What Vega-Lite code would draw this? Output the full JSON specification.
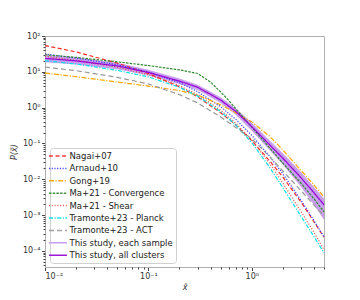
{
  "$schema": "https://vega.github.io/schema/vega-lite/v6.json",
  "width": 279,
  "height": 231,
  "autosize": {"type": "none"},
  "padding": {"left": 45, "top": 36, "right": 36, "bottom": 33},
  "background": "white",
  "config": {
    "font": "DejaVu Sans",
    "view": {"stroke": "#b0b0b0", "strokeWidth": 1},
    "axis": {"grid": false, "domainColor": "#b0b0b0", "tickColor": "#444444", "labelColor": "#333333", "labelFontSize": 8, "titleFontSize": 8, "titleColor": "#333333", "titleFontWeight": "normal", "titleFontStyle": "italic"}
  },
  "datasets": {
    "lines": [
      {"s": "Nagai+07", "x": 0.01, "y": 54}, {"s": "Nagai+07", "x": 0.02, "y": 36}, {"s": "Nagai+07", "x": 0.05, "y": 17.5}, {"s": "Nagai+07", "x": 0.1, "y": 9.0}, {"s": "Nagai+07", "x": 0.2, "y": 3.8}, {"s": "Nagai+07", "x": 0.3, "y": 2.0}, {"s": "Nagai+07", "x": 0.5, "y": 0.72}, {"s": "Nagai+07", "x": 0.7, "y": 0.33}, {"s": "Nagai+07", "x": 1, "y": 0.12}, {"s": "Nagai+07", "x": 1.5, "y": 0.032}, {"s": "Nagai+07", "x": 2, "y": 0.0115}, {"s": "Nagai+07", "x": 3, "y": 0.0023}, {"s": "Nagai+07", "x": 4, "y": 0.00065}, {"s": "Nagai+07", "x": 5, "y": 0.00024},
      {"s": "Arnaud+10", "x": 0.01, "y": 31.5}, {"s": "Arnaud+10", "x": 0.02, "y": 24.26}, {"s": "Arnaud+10", "x": 0.05, "y": 15.75}, {"s": "Arnaud+10", "x": 0.1, "y": 9.905}, {"s": "Arnaud+10", "x": 0.2, "y": 4.95}, {"s": "Arnaud+10", "x": 0.3, "y": 2.788}, {"s": "Arnaud+10", "x": 0.5, "y": 1.06}, {"s": "Arnaud+10", "x": 0.7, "y": 0.471}, {"s": "Arnaud+10", "x": 1, "y": 0.1686}, {"s": "Arnaud+10", "x": 1.5, "y": 0.04264}, {"s": "Arnaud+10", "x": 2, "y": 0.0142}, {"s": "Arnaud+10", "x": 3, "y": 0.00258}, {"s": "Arnaud+10", "x": 4, "y": 0.000702}, {"s": "Arnaud+10", "x": 5, "y": 0.000245},
      {"s": "Gong+19", "x": 0.01, "y": 9.3}, {"s": "Gong+19", "x": 0.02, "y": 7.3}, {"s": "Gong+19", "x": 0.05, "y": 5.2}, {"s": "Gong+19", "x": 0.1, "y": 4.0}, {"s": "Gong+19", "x": 0.2, "y": 3.0}, {"s": "Gong+19", "x": 0.3, "y": 2.25}, {"s": "Gong+19", "x": 0.5, "y": 1.2}, {"s": "Gong+19", "x": 0.7, "y": 0.72}, {"s": "Gong+19", "x": 1, "y": 0.4}, {"s": "Gong+19", "x": 1.5, "y": 0.155}, {"s": "Gong+19", "x": 2, "y": 0.066}, {"s": "Gong+19", "x": 3, "y": 0.0175}, {"s": "Gong+19", "x": 4, "y": 0.0069}, {"s": "Gong+19", "x": 5, "y": 0.0032},
      {"s": "Ma+21 - Convergence", "x": 0.01, "y": 30}, {"s": "Ma+21 - Convergence", "x": 0.02, "y": 25.3}, {"s": "Ma+21 - Convergence", "x": 0.05, "y": 19.0}, {"s": "Ma+21 - Convergence", "x": 0.1, "y": 15.0}, {"s": "Ma+21 - Convergence", "x": 0.2, "y": 11.3}, {"s": "Ma+21 - Convergence", "x": 0.3, "y": 9.0}, {"s": "Ma+21 - Convergence", "x": 0.4, "y": 5.15}, {"s": "Ma+21 - Convergence", "x": 0.5, "y": 2.74}, {"s": "Ma+21 - Convergence", "x": 0.6, "y": 1.58}, {"s": "Ma+21 - Convergence", "x": 0.7, "y": 0.93}, {"s": "Ma+21 - Convergence", "x": 1, "y": 0.286}, {"s": "Ma+21 - Convergence", "x": 1.5, "y": 0.0738}, {"s": "Ma+21 - Convergence", "x": 2, "y": 0.0281}, {"s": "Ma+21 - Convergence", "x": 3, "y": 0.00773}, {"s": "Ma+21 - Convergence", "x": 4, "y": 0.00284}, {"s": "Ma+21 - Convergence", "x": 5, "y": 0.00123},
      {"s": "Ma+21 - Shear", "x": 0.01, "y": 27}, {"s": "Ma+21 - Shear", "x": 0.02, "y": 21}, {"s": "Ma+21 - Shear", "x": 0.05, "y": 13.5}, {"s": "Ma+21 - Shear", "x": 0.1, "y": 8.3}, {"s": "Ma+21 - Shear", "x": 0.2, "y": 4.1}, {"s": "Ma+21 - Shear", "x": 0.3, "y": 2.3}, {"s": "Ma+21 - Shear", "x": 0.5, "y": 0.85}, {"s": "Ma+21 - Shear", "x": 0.7, "y": 0.37}, {"s": "Ma+21 - Shear", "x": 1, "y": 0.125}, {"s": "Ma+21 - Shear", "x": 1.5, "y": 0.027}, {"s": "Ma+21 - Shear", "x": 2, "y": 0.0078}, {"s": "Ma+21 - Shear", "x": 3, "y": 0.00125}, {"s": "Ma+21 - Shear", "x": 4, "y": 0.00033}, {"s": "Ma+21 - Shear", "x": 5, "y": 0.000108},
      {"s": "Tramonte+23 - Planck", "x": 0.01, "y": 20.5}, {"s": "Tramonte+23 - Planck", "x": 0.02, "y": 16.5}, {"s": "Tramonte+23 - Planck", "x": 0.05, "y": 11.0}, {"s": "Tramonte+23 - Planck", "x": 0.1, "y": 7.2}, {"s": "Tramonte+23 - Planck", "x": 0.2, "y": 3.7}, {"s": "Tramonte+23 - Planck", "x": 0.3, "y": 2.1}, {"s": "Tramonte+23 - Planck", "x": 0.5, "y": 0.78}, {"s": "Tramonte+23 - Planck", "x": 0.7, "y": 0.33}, {"s": "Tramonte+23 - Planck", "x": 1, "y": 0.105}, {"s": "Tramonte+23 - Planck", "x": 1.5, "y": 0.021}, {"s": "Tramonte+23 - Planck", "x": 2, "y": 0.0058}, {"s": "Tramonte+23 - Planck", "x": 3, "y": 0.00092}, {"s": "Tramonte+23 - Planck", "x": 4, "y": 0.00025}, {"s": "Tramonte+23 - Planck", "x": 5, "y": 0.000088},
      {"s": "Tramonte+23 - ACT", "x": 0.01, "y": 13.5}, {"s": "Tramonte+23 - ACT", "x": 0.02, "y": 10.8}, {"s": "Tramonte+23 - ACT", "x": 0.05, "y": 7.0}, {"s": "Tramonte+23 - ACT", "x": 0.1, "y": 4.6}, {"s": "Tramonte+23 - ACT", "x": 0.2, "y": 2.3}, {"s": "Tramonte+23 - ACT", "x": 0.3, "y": 1.35}, {"s": "Tramonte+23 - ACT", "x": 0.5, "y": 0.55}, {"s": "Tramonte+23 - ACT", "x": 0.7, "y": 0.28}, {"s": "Tramonte+23 - ACT", "x": 1, "y": 0.135}, {"s": "Tramonte+23 - ACT", "x": 1.5, "y": 0.042}, {"s": "Tramonte+23 - ACT", "x": 2, "y": 0.017}, {"s": "Tramonte+23 - ACT", "x": 3, "y": 0.0048}, {"s": "Tramonte+23 - ACT", "x": 4, "y": 0.0019}, {"s": "Tramonte+23 - ACT", "x": 5, "y": 0.00095},
      {"s": "This study, all clusters", "x": 0.01, "y": 23.7}, {"s": "This study, all clusters", "x": 0.02, "y": 20.2}, {"s": "This study, all clusters", "x": 0.05, "y": 14.6}, {"s": "This study, all clusters", "x": 0.1, "y": 9.6}, {"s": "This study, all clusters", "x": 0.2, "y": 5.5}, {"s": "This study, all clusters", "x": 0.3, "y": 3.71}, {"s": "This study, all clusters", "x": 0.5, "y": 1.63}, {"s": "This study, all clusters", "x": 0.7, "y": 0.787}, {"s": "This study, all clusters", "x": 1, "y": 0.296}, {"s": "This study, all clusters", "x": 1.5, "y": 0.0896}, {"s": "This study, all clusters", "x": 2, "y": 0.0387}, {"s": "This study, all clusters", "x": 3, "y": 0.011}, {"s": "This study, all clusters", "x": 4, "y": 0.00419}, {"s": "This study, all clusters", "x": 5, "y": 0.00193}
    ],
    "band": [
      {"s": "This study, each sample", "x": 0.01, "lo": 18.5, "hi": 29.6},
      {"s": "This study, each sample", "x": 0.02, "lo": 15.9, "hi": 25.3},
      {"s": "This study, each sample", "x": 0.05, "lo": 11.7, "hi": 18.0},
      {"s": "This study, each sample", "x": 0.1, "lo": 7.9, "hi": 11.5},
      {"s": "This study, each sample", "x": 0.2, "lo": 4.6, "hi": 6.5},
      {"s": "This study, each sample", "x": 0.3, "lo": 3.09, "hi": 4.38},
      {"s": "This study, each sample", "x": 0.5, "lo": 1.34, "hi": 1.96},
      {"s": "This study, each sample", "x": 0.7, "lo": 0.63, "hi": 0.96},
      {"s": "This study, each sample", "x": 1, "lo": 0.228, "hi": 0.376},
      {"s": "This study, each sample", "x": 1.5, "lo": 0.064, "hi": 0.118},
      {"s": "This study, each sample", "x": 2, "lo": 0.0258, "hi": 0.0534},
      {"s": "This study, each sample", "x": 3, "lo": 0.0061, "hi": 0.0156},
      {"s": "This study, each sample", "x": 4, "lo": 0.0019, "hi": 0.0061},
      {"s": "This study, each sample", "x": 5, "lo": 0.00074, "hi": 0.00284}
    ]
  },
  "layer": [
    {
      "data": {"name": "band"},
      "mark": {"type": "area", "opacity": 0.9},
      "encoding": {
        "x": {"field": "x", "type": "quantitative", "scale": {"type": "log", "domain": [0.01, 5], "nice": false},
          "axis": {"orient": "bottom", "values": [0.01, 0.1, 1], "tickSize": 3.5, "labelPadding": 1.5, "title": "x̃", "titlePadding": 3,
            "labelExpr": "'10' + replace(replace(replace(replace(replace(replace('' + round(log(datum.value)/LN10), '-', '⁻'), '0', '⁰'), '1', '¹'), '2', '²'), '3', '³'), '4', '⁴')"}},
        "y": {"field": "lo", "type": "quantitative", "scale": {"type": "log", "domain": [3.55e-5, 100], "nice": false},
          "axis": {"orient": "left", "values": [0.0001, 0.001, 0.01, 0.1, 1, 10, 100], "tickSize": 3.5, "labelPadding": 1.5, "title": "P(x̃)", "titlePadding": 4,
            "labelExpr": "'10' + replace(replace(replace(replace(replace(replace('' + round(log(datum.value)/LN10), '-', '⁻'), '0', '⁰'), '1', '¹'), '2', '²'), '3', '³'), '4', '⁴')"}},
        "y2": {"field": "hi"},
        "color": {"field": "s", "type": "nominal",
          "scale": {"domain": ["Nagai+07", "Arnaud+10", "Gong+19", "Ma+21 - Convergence", "Ma+21 - Shear", "Tramonte+23 - Planck", "Tramonte+23 - ACT", "This study, each sample", "This study, all clusters"],
            "range": ["#ff2a2a", "#3a3aff", "#ffa500", "#2e8b2e", "#e04848", "#00e0e8", "#999999", "#c493ec", "#9400d3"]},
          "legend": {"title": null, "orient": "bottom-left", "offset": 4.5, "symbolType": "M-2,0H2", "symbolSize": 81, "labelFontSize": 8.5, "labelColor": "#222222", "labelOffset": 6, "rowPadding": 2.4, "padding": 2.5, "fillColor": "white", "strokeColor": "#d0d0d0", "cornerRadius": 3, "labelLimit": 200}}
      }
    },
    {
      "data": {"name": "lines"},
      "mark": {"type": "line", "strokeWidth": 1.2},
      "encoding": {
        "x": {"field": "x", "type": "quantitative",
          "axis": {"orient": "bottom", "values": [0.02, 0.03, 0.04, 0.05, 0.06, 0.07, 0.08, 0.09, 0.2, 0.3, 0.4, 0.5, 0.6, 0.7, 0.8, 0.9, 2, 3, 4, 5], "labels": false, "domain": false, "tickSize": 2, "title": null}},
        "y": {"field": "y", "type": "quantitative",
          "axis": {"orient": "left", "values": [0.00004, 0.00005, 0.00006, 0.00007, 0.00008, 0.00009, 0.0002, 0.0003, 0.0004, 0.0005, 0.0006, 0.0007, 0.0008, 0.0009, 0.002, 0.003, 0.004, 0.005, 0.006, 0.007, 0.008, 0.009, 0.02, 0.03, 0.04, 0.05, 0.06, 0.07, 0.08, 0.09, 0.2, 0.3, 0.4, 0.5, 0.6, 0.7, 0.8, 0.9, 2, 3, 4, 5, 6, 7, 8, 9, 20, 30, 40, 50, 60, 70, 80, 90], "labels": false, "domain": false, "tickSize": 2, "title": null}},
        "color": {"field": "s", "type": "nominal", "legend": null},
        "strokeDash": {"field": "s", "type": "nominal", "legend": null,
          "scale": {"domain": ["Nagai+07", "Arnaud+10", "Gong+19", "Ma+21 - Convergence", "Ma+21 - Shear", "Tramonte+23 - Planck", "Tramonte+23 - ACT", "This study, each sample", "This study, all clusters"],
            "range": [[4, 2.5], [1.2, 1.5], [5, 1.5, 1.2, 1.5], [2.5, 1.2], [1, 1.8], [4, 1.5, 1.2, 1.5], [5, 3], [1, 0], [1, 0]]}}
      }
    }
  ],
  "resolve": {"axis": {"x": "independent", "y": "independent"}}
}
